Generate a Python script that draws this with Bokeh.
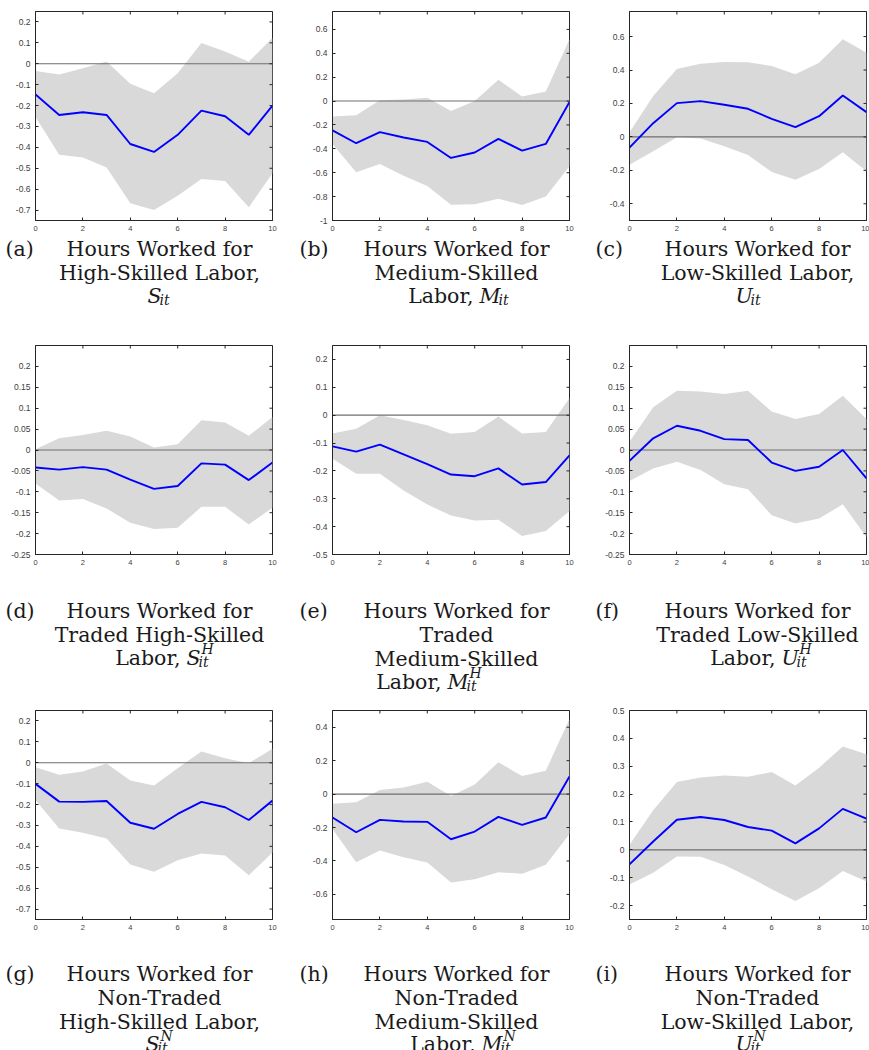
from math import pi

from bokeh.plotting import figure
from bokeh.models import Range1d, LinearAxis, FixedTicker, ColumnDataSource
from bokeh.layouts import column, row
from bokeh.embed import file_html
from bokeh.resources import INLINE
from bokeh.core.properties import value

periods = list(range(11))
x_ticks = [0, 2, 4, 6, 8, 10]

# ---- impulse responses (point estimate, lower and upper band) ----
# (a) high-skilled
a_irf = [-0.147, -0.245, -0.232, -0.245, -0.384, -0.422, -0.340, -0.224, -0.251, -0.340, -0.200]
a_lo = [-0.255, -0.435, -0.448, -0.496, -0.667, -0.700, -0.631, -0.551, -0.561, -0.687, -0.524]
a_hi = [-0.035, -0.051, -0.021, 0.011, -0.096, -0.141, -0.045, 0.099, 0.059, 0.010, 0.125]
# (b) medium-skilled
b_irf = [-0.246, -0.353, -0.260, -0.305, -0.342, -0.476, -0.431, -0.317, -0.415, -0.359, -0.008]
b_lo = [-0.360, -0.597, -0.527, -0.625, -0.711, -0.868, -0.863, -0.818, -0.871, -0.798, -0.546]
b_hi = [-0.129, -0.118, 0.006, 0.014, 0.028, -0.084, 0.000, 0.179, 0.039, 0.081, 0.518]
# (c) low-skilled
c_irf = [-0.064, 0.082, 0.202, 0.214, 0.192, 0.168, 0.108, 0.058, 0.124, 0.248, 0.148]
c_lo = [-0.166, -0.086, -0.002, -0.010, -0.056, -0.108, -0.210, -0.256, -0.192, -0.092, -0.206]
c_hi = [0.028, 0.244, 0.406, 0.438, 0.448, 0.446, 0.424, 0.374, 0.444, 0.584, 0.504]
# (d) traded high-skilled
d_irf = [-0.042, -0.047, -0.041, -0.047, -0.071, -0.093, -0.086, -0.032, -0.035, -0.072, -0.030]
d_lo = [-0.080, -0.121, -0.117, -0.140, -0.174, -0.189, -0.186, -0.136, -0.136, -0.178, -0.138]
d_hi = [0.002, 0.028, 0.036, 0.046, 0.032, 0.006, 0.014, 0.071, 0.066, 0.034, 0.079]
# (e) traded medium-skilled
e_irf = [-0.112, -0.131, -0.106, -0.141, -0.176, -0.213, -0.219, -0.191, -0.249, -0.240, -0.144]
e_lo = [-0.156, -0.210, -0.210, -0.270, -0.321, -0.360, -0.378, -0.375, -0.434, -0.416, -0.344]
e_hi = [-0.066, -0.049, 0.000, -0.017, -0.036, -0.067, -0.060, -0.005, -0.066, -0.060, 0.062]
# (f) traded low-skilled
f_irf = [-0.026, 0.028, 0.058, 0.046, 0.026, 0.024, -0.030, -0.050, -0.040, 0.000, -0.068]
f_lo = [-0.074, -0.044, -0.028, -0.048, -0.082, -0.094, -0.156, -0.176, -0.164, -0.130, -0.208]
f_hi = [0.020, 0.102, 0.142, 0.140, 0.134, 0.142, 0.092, 0.074, 0.086, 0.130, 0.074]
# (g) non-traded high-skilled
g_irf = [-0.101, -0.186, -0.187, -0.183, -0.287, -0.316, -0.245, -0.187, -0.213, -0.274, -0.181]
g_lo = [-0.178, -0.314, -0.335, -0.362, -0.487, -0.522, -0.466, -0.434, -0.444, -0.538, -0.429]
g_hi = [-0.022, -0.058, -0.042, -0.003, -0.085, -0.109, -0.026, 0.054, 0.022, -0.002, 0.067]
# (h) non-traded medium-skilled
h_irf = [-0.140, -0.228, -0.154, -0.164, -0.166, -0.270, -0.224, -0.136, -0.184, -0.140, 0.106]
h_lo = [-0.208, -0.407, -0.337, -0.377, -0.409, -0.529, -0.509, -0.467, -0.477, -0.423, -0.238]
h_hi = [-0.058, -0.048, 0.024, 0.040, 0.074, -0.012, 0.058, 0.190, 0.108, 0.140, 0.449]
# (i) non-traded low-skilled
i_irf = [-0.052, 0.030, 0.108, 0.118, 0.107, 0.082, 0.069, 0.023, 0.077, 0.147, 0.112]
i_lo = [-0.124, -0.082, -0.024, -0.025, -0.054, -0.096, -0.141, -0.184, -0.138, -0.076, -0.114]
i_hi = [0.018, 0.142, 0.243, 0.260, 0.267, 0.262, 0.279, 0.231, 0.295, 0.371, 0.343]

# ---- y axis tick values ----
ticks_tenths_a = [-0.7, -0.6, -0.5, -0.4, -0.3, -0.2, -0.1, 0.0, 0.1, 0.2]
ticks_fifths_b = [-1.0, -0.8, -0.6, -0.4, -0.2, 0.0, 0.2, 0.4, 0.6]
ticks_fifths_c = [-0.4, -0.2, 0.0, 0.2, 0.4, 0.6]
ticks_twentieths = [-0.25, -0.2, -0.15, -0.1, -0.05, 0.0, 0.05, 0.1, 0.15, 0.2]
ticks_tenths_e = [-0.5, -0.4, -0.3, -0.2, -0.1, 0.0, 0.1, 0.2]
ticks_fifths_h = [-0.6, -0.4, -0.2, 0.0, 0.2, 0.4]
ticks_tenths_i = [-0.2, -0.1, 0.0, 0.1, 0.2, 0.3, 0.4, 0.5]

panels = [
    (a_irf, a_lo, a_hi, (-0.75, 0.25), ticks_tenths_a),
    (b_irf, b_lo, b_hi, (-1.0, 0.75), ticks_fifths_b),
    (c_irf, c_lo, c_hi, (-0.5, 0.75), ticks_fifths_c),
    (d_irf, d_lo, d_hi, (-0.25, 0.25), ticks_twentieths),
    (e_irf, e_lo, e_hi, (-0.5, 0.25), ticks_tenths_e),
    (f_irf, f_lo, f_hi, (-0.25, 0.25), ticks_twentieths),
    (g_irf, g_lo, g_hi, (-0.75, 0.25), ticks_tenths_a),
    (h_irf, h_lo, h_hi, (-0.75, 0.5), ticks_fifths_h),
    (i_irf, i_lo, i_hi, (-0.25, 0.5), ticks_tenths_i),
]

# ---- sub-captions ----
tags = ["(a)", "(b)", "(c)", "(d)", "(e)", "(f)", "(g)", "(h)", "(i)"]
caption_lines = [
    ["Hours Worked for", "High-Skilled Labor,"],
    ["Hours Worked for", "Medium-Skilled"],
    ["Hours Worked for", "Low-Skilled Labor,"],
    ["Hours Worked for", "Traded High-Skilled"],
    ["Hours Worked for", "Traded", "Medium-Skilled"],
    ["Hours Worked for", "Traded Low-Skilled"],
    ["Hours Worked for", "Non-Traded", "High-Skilled Labor,"],
    ["Hours Worked for", "Non-Traded", "Medium-Skilled"],
    ["Hours Worked for", "Non-Traded", "Low-Skilled Labor,"],
]
# symbol on the last caption line: (prefix, letter, superscript, subscript)
caption_symbols = [
    ("", "S", "", "it"), ("Labor,", "M", "", "it"), ("", "U", "", "it"),
    ("Labor,", "S", "H", "it"), ("Labor,", "M", "H", "it"), ("Labor,", "U", "H", "it"),
    ("", "S", "N", "it"), ("Labor,", "M", "N", "it"), ("", "U", "N", "it"),
]

AX = "#262626"
LBL = "#404040"
SERIF = "DejaVu Serif"
SANS = "Liberation Sans"
COL_W = [297, 297, 275]
COL_RB = [25, 25, 3]
TICK_PX = 3


def tick_text(v):
    v = round(v, 4) + 0.0
    return f"{v:g}"


def style_axis(ax, size):
    ax.axis_line_color = AX
    ax.axis_line_width = 1
    ax.major_tick_line_color = AX
    ax.major_tick_in = TICK_PX
    ax.major_tick_out = 0
    ax.minor_tick_line_color = None
    ax.major_label_text_font = SANS
    ax.major_label_text_color = LBL
    ax.major_label_standoff = 5
    ax.major_label_text_font_size = size


def make_panel(idx):
    irf, lo, hi, yr, yt = panels[idx]
    c = idx % 3
    p = figure(width=COL_W[c], height=236, x_range=Range1d(0, 10),
               y_range=Range1d(*yr), output_backend="svg", toolbar_location=None,
               min_border_left=35, min_border_right=COL_RB[c],
               min_border_top=11, min_border_bottom=16,
               x_axis_location=None, y_axis_location=None)
    p.xgrid.visible = False
    p.ygrid.visible = False
    p.outline_line_color = AX
    p.outline_line_width = 1
    p.background_fill_color = "white"
    p.border_fill_color = "white"

    p.varea(x=periods, y1=lo, y2=hi, fill_color="#d9d9d9")
    p.line(x=[periods[0], periods[-1]], y=[0, 0], line_color="#6e6e6e", line_width=1.1)
    p.line(x=periods, y=irf, line_color="#0000ff", line_width=1.9)

    # inward ticks along the top and right edges of the box (half clipped by the frame)
    p.scatter(x=x_ticks, y=[yr[1]] * len(x_ticks), marker="dash", angle=pi / 2,
              size=2 * TICK_PX, line_color=AX, line_width=1)
    p.scatter(x=[periods[-1]] * len(yt), y=yt, marker="dash",
              size=2 * TICK_PX, line_color=AX, line_width=1)

    xa = LinearAxis(ticker=FixedTicker(ticks=x_ticks))
    style_axis(xa, "7.5px")
    p.add_layout(xa, "below")
    ya = LinearAxis(ticker=FixedTicker(ticks=yt),
                    major_label_overrides={t: tick_text(t) for t in yt})
    style_axis(ya, "8.5px")
    p.add_layout(ya, "left")
    return p


# caption block geometry (pixels inside each caption strip)
CAP_H = [98, 129, 115]
LINE0 = [12, 40, 37.5]
LINE_STEP = 24.2
MATH_STEP = 22.5
BASE_DY = 0.5
TAG_X = [5, 299, 595]
CENTER_X = [159, 456, 757]
LETTER_X = [147, 479, 735, 186, 447, 781, 145, 481, 735]
LETTER_W = {"S": 13, "M": 20, "U": 16}
FONT_PX = "20.5px"


def make_caption_row(r):
    H = CAP_H[r]
    cf = figure(width=869, height=H, x_range=Range1d(0, 869), y_range=Range1d(H, 0),
                output_backend="svg", toolbar_location=None, min_border=0,
                x_axis_location=None, y_axis_location=None)
    cf.xgrid.visible = False
    cf.ygrid.visible = False
    cf.outline_line_color = None
    cf.border_fill_color = "white"

    tag = dict(x=[], y=[], text=[])
    plain = dict(x=[], y=[], text=[])
    pre = dict(x=[], y=[], text=[])
    main = dict(x=[], y=[], text=[])
    scr = dict(x=[], y=[], text=[])
    for c in range(3):
        idx = r * 3 + c
        y0 = LINE0[r]
        tag["x"].append(TAG_X[c]); tag["y"].append(y0 + BASE_DY); tag["text"].append(tags[idx])
        lines = caption_lines[idx]
        for k, t in enumerate(lines):
            plain["x"].append(CENTER_X[c]); plain["y"].append(y0 + k * LINE_STEP + BASE_DY)
            plain["text"].append(t)
        base = y0 + (len(lines) - 1) * LINE_STEP + MATH_STEP + BASE_DY
        prefix, letter, sup, sub = caption_symbols[idx]
        lx = LETTER_X[idx]
        if prefix:
            pre["x"].append(lx - 6); pre["y"].append(base); pre["text"].append(prefix)
        main["x"].append(lx); main["y"].append(base); main["text"].append(letter)
        sx = lx + LETTER_W[letter]
        scr["x"].append(sx - 1); scr["y"].append(base + 4); scr["text"].append(sub)
        if sup:
            scr["x"].append(sx + 2); scr["y"].append(base - 8.5)
            scr["text"].append(sup)

    common = dict(text_font=value(SERIF), text_color="#1a1a1a", text_baseline="alphabetic")
    cf.text(x="x", y="y", text="text", source=ColumnDataSource(tag), text_align="left",
            text_font_size=FONT_PX, **common)
    cf.text(x="x", y="y", text="text", source=ColumnDataSource(plain), text_align="center",
            text_font_size=FONT_PX, **common)
    cf.text(x="x", y="y", text="text", source=ColumnDataSource(pre), text_align="right",
            text_font_size=FONT_PX, **common)
    cf.text(x="x", y="y", text="text", source=ColumnDataSource(main), text_align="left",
            text_font_size=FONT_PX, text_font_style="italic", **common)
    cf.text(x="x", y="y", text="text", source=ColumnDataSource(scr), text_align="left",
            text_font_size="14px", text_font_style="italic", **common)
    return cf


rows = []
for r in range(3):
    rows.append(row(*[make_panel(r * 3 + c) for c in range(3)], spacing=0))
    rows.append(make_caption_row(r))

layout = column(*rows, spacing=0)

open("out.html", "w").write(file_html(layout, INLINE, title="Hours worked responses"))
